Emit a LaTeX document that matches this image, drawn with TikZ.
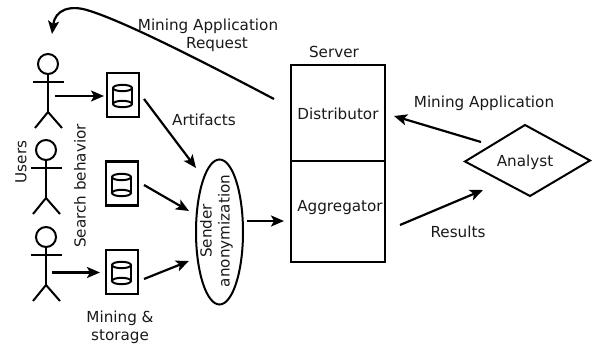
\documentclass[tikz,border=0pt]{standalone}
\usepackage{fontspec}
\setmainfont{DejaVu Sans}
\usetikzlibrary{arrows.meta,shapes.geometric}
\tikzset{
  ln/.style={line width=2pt,black},
  arr/.style={line width=2.2pt,black,-{Stealth[length=13pt,width=11pt,inset=3pt]}},
  txt/.style={font=\fontsize{15.2pt}{18pt}\selectfont,inner sep=0pt,text=black!90},
  storebox/.style={draw,line width=2.2pt,minimum width=32pt,minimum height=44pt,inner sep=0pt},
}
\newcommand{\stickman}[3]{% x,y of head centre, name
  \node[draw,circle,line width=2pt,minimum size=20pt,inner sep=0pt] (#3head) at (#1,#2) {};
  \coordinate (#3arml) at (#1-15,#2+18);
  \coordinate (#3armr) at (#1+16,#2+18);
  \coordinate (#3hip) at (#1,#2+48);
  \coordinate (#3legl) at (#1-13,#2+64);
  \coordinate (#3legr) at (#1+14,#2+64);
  \draw[ln] (#3head) -- (#3hip);
  \draw[ln] (#3arml) -- (#3armr);
  \draw[ln] (#3legl) -- (#3hip) -- (#3legr);
}
\newcommand{\cyl}[2]{% centre
  \draw[line width=2pt] (#1-9.5,#2-8) -- (#1-9.5,#2+8);
  \draw[line width=2pt] (#1+9.5,#2-8) -- (#1+9.5,#2+8);
  \draw[line width=2pt] (#1,#2-8) ellipse[x radius=9.5,y radius=3.2];
  \draw[line width=2pt] (#1,#2+8) ellipse[x radius=9.5,y radius=3.2];
}
\begin{document}
\begin{tikzpicture}[x=1pt,y=-1pt]
\useasboundingbox (0,0) rectangle (592,347);
\stickman{48}{64}{a}
\stickman{46}{150}{b}
\stickman{46}{237}{c}
\node[storebox] (s1) at (123,95) {};
\node[storebox] (s2) at (122,183.5) {};
\node[storebox] (s3) at (122,272) {};
\cyl{122.5}{96}
\cyl{121.5}{185}
\cyl{121.5}{273}
\node[draw,ellipse,line width=2pt,minimum width=47pt,minimum height=145pt,inner sep=0pt] (anon) at (219.5,232) {};
\node[txt,rotate=90,align=center] (anontxt) at (216.5,231) {Sender\\anonymization};
\node[draw,line width=2.2pt,minimum width=94pt,minimum height=96pt,inner sep=0pt] (dist) at (338,113) {};
\node[draw,line width=2.2pt,minimum width=94pt,minimum height=101pt,inner sep=0pt] (aggr) at (338,211.5) {};
\node[txt] (disttxt) at (338,113.5) {Distributor};
\node[txt] (aggrtxt) at (340,207.5) {Aggregator};
\coordinate (dl) at (465,161.5);
\coordinate (dt) at (525,125);
\coordinate (dr) at (590,160.5);
\coordinate (db) at (530,196);
\draw[line width=2pt,line join=miter] (dl) -- (dt) -- (dr) -- (db) -- cycle;
\node[txt] (analyst) at (525,162) {Analyst};
\coordinate (a1) at (55,96); \coordinate (a1e) at (104,96);
\coordinate (a2) at (52,272.5); \coordinate (a2e) at (100,272.5);
\coordinate (b1) at (144,99); \coordinate (b1e) at (196,168);
\coordinate (b2) at (144,185); \coordinate (b2e) at (189,211);
\coordinate (b3) at (144,279); \coordinate (b3e) at (189,261);
\coordinate (e1) at (247,221); \coordinate (e1e) at (284,221);
\coordinate (m1) at (481,142); \coordinate (m1e) at (394,116);
\coordinate (r1) at (400,225); \coordinate (r1e) at (483,190);
\draw[arr] (a1) -- (a1e);
\draw[arr] (a2) -- (a2e);
\draw[arr] (b1) -- (b1e);
\draw[arr] (b2) -- (b2e);
\draw[arr] (b3) -- (b3e);
\draw[arr] (e1) -- (e1e);
\draw[arr] (m1) -- (m1e);
\draw[arr] (r1) -- (r1e);
\coordinate (c0) at (274,99);
\coordinate (c1) at (52,34);
\draw[arr] (c0) .. controls (200,60) and (125,22) .. (90,11) .. controls (70,4) and (55,10) .. (c1);
\node[txt] (t1) at (334,52) {Server};
\node[txt] (t2) at (484,103.5) {Mining Application};
\node[txt] (t3) at (458,232) {Results};
\node[txt] (t4) at (204,120) {Artifacts};
\node[txt] (t5) at (208,26.5) {Mining Application};
\node[txt] (t6) at (217,45) {Request};
\node[txt,rotate=90] (t7) at (21,162) {Users};
\node[txt,rotate=90] (t8) at (80,186) {Search behavior};
\node[txt] (t9) at (120,318) {Mining \&};
\node[txt] (t10) at (120,336.5) {storage};
\end{tikzpicture}
\end{document}
